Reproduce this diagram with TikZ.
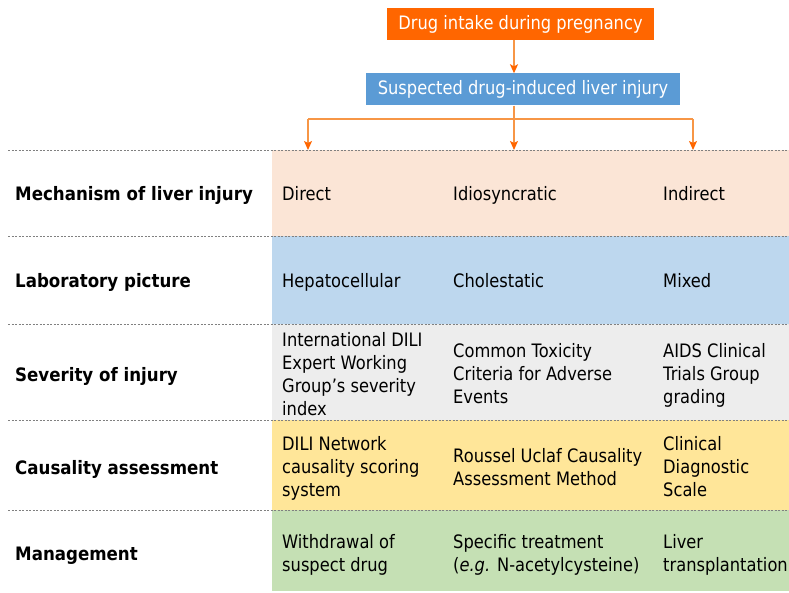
\documentclass[tikz,border=0pt]{standalone}
\usepackage{fontspec}
\setmainfont{DejaVu Sans}[FakeStretch=0.88,BoldFeatures={FakeStretch=0.9}]
\usetikzlibrary{arrows.meta}

\definecolor{drugorange}{HTML}{FF6600}
\definecolor{linkorange}{HTML}{F79646}
\definecolor{diliblue}{HTML}{5B9BD5}
\definecolor{mechfill}{HTML}{FBE5D6}
\definecolor{labfill}{HTML}{BDD7EE}
\definecolor{sevfill}{HTML}{EDEDED}
\definecolor{causfill}{HTML}{FFE699}
\definecolor{mgmtfill}{HTML}{C5E0B4}

\begin{document}
\begin{tikzpicture}[x=1pt,y=-1pt,
  font=\fontsize{18.5}{23}\selectfont,
  headbox/.style={text=white,minimum height=32,inner xsep=0pt},
  link/.style={linkorange,line width=1.3pt,
    -{Stealth[length=9pt,width=8pt,inset=2pt,drugorange]}},
  rowband/.style={anchor=north west,inner sep=0pt,minimum width=517},
  rowlabel/.style={anchor=west,inner sep=0pt,yshift=-3pt,
    execute at begin node=\strut,font=\fontsize{18.5}{23}\selectfont\bfseries},
  cell/.style={anchor=west,align=left,inner sep=0pt,yshift=-3pt,
    execute at begin node=\strut,execute at end node=\strut},
  sep/.style={gray,line width=0.8pt,dash pattern=on 2pt off 1.5pt}]
\useasboundingbox (0,0) rectangle (789,593);

% flow on top
\node[headbox,fill=drugorange,minimum width=267] (intake) at (520.5,24) {Drug intake during pregnancy};
\node[headbox,fill=diliblue,minimum width=314] (dili) at (523,89.5) {Suspected drug-induced liver injury};

% coloured rows
\node[rowband,fill=mechfill,minimum height=86] (mech) at (272,150) {};
\node[rowband,fill=labfill,minimum height=88] (lab) at (272,236) {};
\node[rowband,fill=sevfill,minimum height=96] (sev) at (272,324) {};
\node[rowband,fill=causfill,minimum height=90] (caus) at (272,420) {};
\node[rowband,fill=mgmtfill,minimum height=81] (mgmt) at (272,510) {};

\foreach \y in {150,236,324,420,510}
  \draw[sep] (8,\y) -- (789,\y);

% arrows
\coordinate (split) at (514,119);
\coordinate (left) at (308,119);
\coordinate (right) at (693,119);
\draw[link] (intake.south -| split) -- (dili.north -| split);
\draw[link] (dili.south -| split) -- (split |- mech.north);
\draw[linkorange,line width=1.3pt] (left) -- (right);
\draw[link] (left) -- (left |- mech.north);
\draw[link] (right) -- (right |- mech.north);

% row labels
\node[rowlabel] (lmech) at (15,193) {Mechanism of liver injury};
\node[rowlabel] (llab) at (15,280) {Laboratory picture};
\node[rowlabel] (lsev) at (15,374) {Severity of injury};
\node[rowlabel] (lcaus) at (15,467) {Causality assessment};
\node[rowlabel] (lmgmt) at (15,553) {Management};

% cells
\node[cell] (c11) at (282,193) {Direct};
\node[cell] (c12) at (453,193) {Idiosyncratic};
\node[cell] (c13) at (663,193) {Indirect};
\node[cell] (c21) at (282,280) {Hepatocellular};
\node[cell] (c22) at (453,280) {Cholestatic};
\node[cell] (c23) at (663,280) {Mixed};
\node[cell] (c31) at (282,374) {International DILI\\Expert Working\\Group’s severity\\index};
\node[cell] (c32) at (453,374) {Common Toxicity\\Criteria for Adverse\\Events};
\node[cell] (c33) at (663,374) {AIDS Clinical\\Trials Group\\grading};
\node[cell] (c41) at (282,467) {DILI Network\\causality scoring\\system};
\node[cell] (c42) at (453,467) {Roussel Uclaf Causality\\Assessment Method};
\node[cell] (c43) at (663,467) {Clinical\\Diagnostic\\Scale};
\node[cell] (c51) at (282,553) {Withdrawal of\\suspect drug};
\node[cell] (c52) at (453,553) {Specific treatment\\(\textit{e.g.} N-acetylcysteine)};
\node[cell] (c53) at (663,553) {Liver\\transplantation};
\end{tikzpicture}
\end{document}
